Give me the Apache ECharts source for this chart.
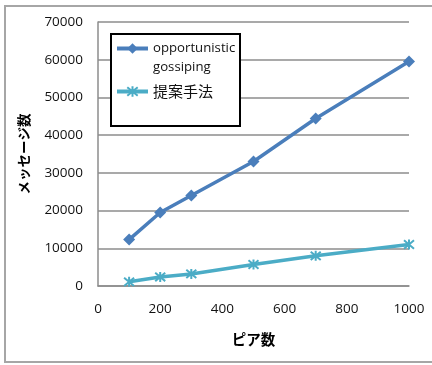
<!DOCTYPE html>
<html>
<head>
<meta charset="utf-8">
<script src="https://cdn.jsdelivr.net/npm/echarts@6/dist/echarts.min.js"></script>
<style>
  html, body { margin: 0; padding: 0; background: #fff; }
  #chart { width: 432px; height: 365px; }
</style>
</head>
<body>
<div id="chart"></div>
<script>
// Peer counts on the x axis
const peers = [100, 200, 300, 500, 700, 1000];
// Message counts per method
const gossipMessages = [12300, 19500, 24000, 33000, 44400, 59500];
const proposedMessages = [1100, 2400, 3200, 5700, 8000, 11000];
// Series / axis names
const seriesNames = ['opportunistic gossiping', '提案手法'];
const xAxisName = 'ピア数';
const yAxisName = 'メッセージ数';

const latin = '"Open Sans", "Noto Sans CJK JP", sans-serif';
const cjk = '"Noto Sans CJK JP", sans-serif';
const gridGray = '#8c8c8c';
const asterisk = 'path://M0,0L10,10M10,0L0,10M5,-1L5,11';
const plain = v => String(v);

const chart = echarts.init(document.getElementById('chart'), null, { renderer: 'canvas' });

chart.setOption({
  animation: false,
  backgroundColor: '#fff',
  textStyle: { fontFamily: latin },
  grid: { left: 98, right: 23, top: 22, bottom: 79, containLabel: false },
  graphic: [
    {
      type: 'rect', z: 0, silent: true,
      shape: { x: 5, y: 6, width: 440, height: 356 },
      style: { fill: 'none', stroke: '#a6a6a6', lineWidth: 2 }
    },
    {
      type: 'rect', z: 3, silent: true,
      shape: { x: 111, y: 34, width: 129, height: 92 },
      style: { fill: '#fff', stroke: '#000', lineWidth: 2 }
    }
  ],
  legend: {
    orient: 'vertical',
    left: 115,
    top: 20,
    padding: 0,
    itemWidth: 31,
    itemHeight: 13,
    itemGap: 7,
    z: 5,
    lineStyle: { width: 4 },
    textStyle: { fontFamily: latin, fontSize: 13.2, color: '#111' },
    data: [
      { name: seriesNames[0], textStyle: { lineHeight: 19 } },
      { name: seriesNames[1], textStyle: { fontFamily: cjk, fontSize: 15 } }
    ],
    // first entry wraps onto two lines, with its first line level with the icon
    formatter: function (name) {
      return name === seriesNames[0] ? '\nopportunistic\ngossiping' : name;
    }
  },
  xAxis: {
    type: 'value',
    min: 0, max: 1000, interval: 200,
    name: xAxisName,
    nameLocation: 'middle',
    nameGap: 46,
    nameTextStyle: { fontFamily: cjk, fontSize: 14.5, fontWeight: 'bold', color: '#000' },
    axisLine: { show: true, lineStyle: { color: gridGray, width: 1.5 } },
    axisTick: { show: false },
    splitLine: { show: false },
    axisLabel: { margin: 16, fontSize: 13.5, color: '#111', fontFamily: latin, formatter: plain }
  },
  yAxis: {
    type: 'value',
    min: 0, max: 70000, interval: 10000,
    name: yAxisName,
    nameLocation: 'middle',
    nameGap: 67,
    nameTextStyle: { fontFamily: cjk, fontSize: 13.5, fontWeight: 'bold', color: '#000' },
    axisLine: { show: true, lineStyle: { color: gridGray, width: 1.5 } },
    axisTick: { show: false },
    splitLine: { show: true, lineStyle: { color: gridGray, width: 1.5 } },
    axisLabel: { margin: 15, fontSize: 13.5, color: '#111', fontFamily: latin, formatter: plain }
  },
  series: [
    {
      name: seriesNames[0],
      type: 'line',
      data: peers.map((p, i) => [p, gossipMessages[i]]),
      symbol: 'diamond',
      symbolSize: 12,
      lineStyle: { color: '#4a7ebb', width: 3.5 },
      itemStyle: { color: '#4a7ebb' },
      z: 2
    },
    {
      name: seriesNames[1],
      type: 'line',
      data: peers.map((p, i) => [p, proposedMessages[i]]),
      symbol: asterisk,
      symbolSize: 10,
      lineStyle: { color: '#4bacc6', width: 3.5 },
      itemStyle: { color: '#4bacc6', borderColor: '#4bacc6', borderWidth: 2 },
      z: 2
    }
  ]
});
</script>
</body>
</html>
